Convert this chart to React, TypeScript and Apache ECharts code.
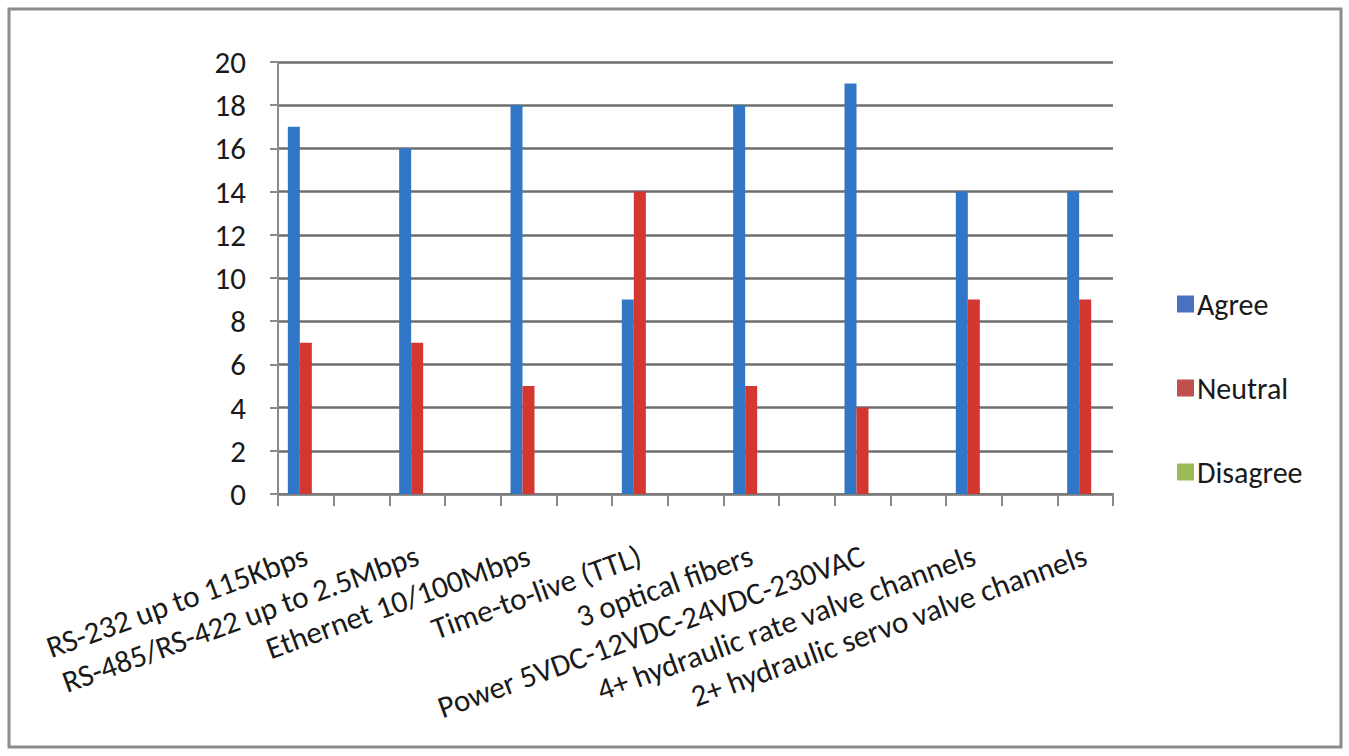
import React, { useEffect, useRef } from "react";
import * as echarts from "echarts";

const categories = [
  "RS-232 up to 115Kbps",
  "RS-485/RS-422 up to 2.5Mbps",
  "Ethernet 10/100Mbps",
  "Time-to-live (TTL)",
  "3 optical fibers",
  "Power 5VDC-12VDC-24VDC-230VAC",
  "4+ hydraulic rate valve channels",
  "2+ hydraulic servo valve channels",
];
const agree = [17, 16, 18, 9, 18, 19, 14, 14];
const neutral = [7, 7, 5, 14, 5, 4, 9, 9];
const disagree = [0, 0, 0, 0, 0, 0, 0, 0];
const seriesNames = ["Agree", "Neutral", "Disagree"];
const yMin = 0;
const yMax = 20;
const yStep = 2;

// The source sheet has a blank row between each pair of categories.
function spread<T>(arr: T[], blank: T): T[] {
  const out: T[] = [];
  arr.forEach((v, i) => {
    out.push(v);
    if (i < arr.length - 1) out.push(blank);
  });
  return out;
}

const FONT = "Carlito, Lato, 'Noto Sans', sans-serif";

export default function App() {
  const ref = useRef<HTMLDivElement>(null);
  useEffect(() => {
    if (!ref.current) return;
    const chart = echarts.init(ref.current, undefined, { renderer: "svg" });
    const slots = spread(categories, "");
    const axisData = slots.map((c, i) => (c === "" ? "__gap" + i : c));
    const colors = ["#3276C8", "#D3372F", "#9BBB59"];
    const legendColors = ["#4A72C0", "#C0504D", "#9BBB59"];
    const values = [agree, neutral, disagree];
    chart.setOption({
      animation: false,
      backgroundColor: "#ffffff",
      grid: { left: 278, right: 236, top: 62, bottom: 262, containLabel: false },
      legend: {
        orient: "vertical",
        left: 1172,
        top: 284,
        itemWidth: 17,
        itemHeight: 17,
        itemGap: 54,
        icon: "rect",
        textStyle: { fontFamily: FONT, fontSize: 30, color: "#1a1a1a", padding: [0, 0, 0, -2] },
        data: seriesNames.map((n, i) => ({ name: n, itemStyle: { color: legendColors[i] } })),
      },
      xAxis: {
        type: "category",
        data: axisData,
        boundaryGap: true,
        axisLine: { show: true, lineStyle: { color: "#7a7a7a", width: 2 } },
        axisTick: { show: true, interval: 0, length: 12, lineStyle: { color: "#8a8a8a", width: 2 } },
        axisLabel: {
          interval: 0,
          rotate: 20,
          margin: 60,
          fontFamily: FONT,
          fontSize: 31,
          color: "#1a1a1a",
          formatter: (v: string) => (v.startsWith("__gap") ? "" : v),
        },
        splitLine: { show: false },
      },
      yAxis: {
        type: "value",
        min: yMin,
        max: yMax,
        interval: yStep,
        axisLine: { show: true, lineStyle: { color: "#8a8a8a", width: 2 } },
        axisTick: { show: true, length: 8, lineStyle: { color: "#8a8a8a", width: 2 } },
        axisLabel: { margin: 32, fontFamily: FONT, fontSize: 31, color: "#1a1a1a" },
        splitLine: { show: true, lineStyle: { color: "#6e6e6e", width: 2.5 } },
      },
      series: seriesNames.map((n, i) => ({
        name: n,
        type: "bar",
        data: spread(values[i] as (number | null)[], null),
        barWidth: 12,
        barGap: "0%",
        itemStyle: { color: colors[i] },
      })),
      graphic: [
        {
          type: "rect",
          shape: { x: 9, y: 9, width: 1332, height: 738 },
          style: { fill: "none", stroke: "#8c8c8c", lineWidth: 3 },
          silent: true,
        },
      ],
    });
    return () => chart.dispose();
  }, []);
  return (
    <div
      ref={ref}
      style={{ position: "fixed", left: 0, top: 0, width: 1349, height: 756 }}
    />
  );
}
